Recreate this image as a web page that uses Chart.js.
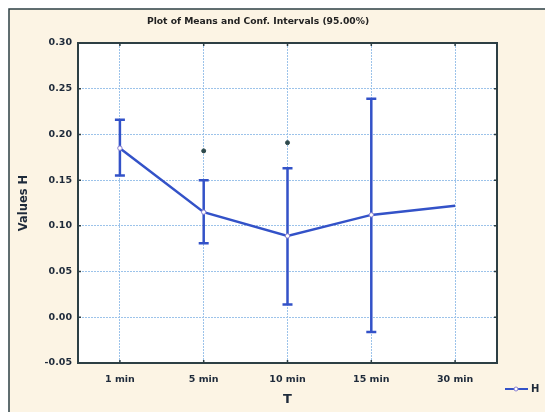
<!DOCTYPE html>
<html>
<head>
<meta charset="utf-8">
<script src="https://cdn.jsdelivr.net/npm/chart.js@4.4.1/dist/chart.umd.min.js"></script>
<style>
  html, body { margin: 0; padding: 0; background: #fff; }
  #wrap { width: 545px; height: 412px; position: relative; }
</style>
</head>
<body>
<div id="wrap"><canvas id="chart" width="545" height="412"></canvas></div>
<script>
// data
const categories = ['1 min', '5 min', '10 min', '15 min', '30 min'];
const means = [0.185, 0.115, 0.089, 0.112, 0.122];
const ciUpper = [0.216, 0.150, 0.163, 0.239, null];
const ciLower = [0.155, 0.081, 0.014, -0.016, null];
const starMarks = [null, 0.182, 0.191, null, null];
const yTicks = [-0.05, 0.00, 0.05, 0.10, 0.15, 0.20, 0.25, 0.30];

const BLUE = '#3352c8';
const DARK = '#2d3f44';
const CREAM = '#fcf4e4';
const GRID = '#9cc3ea';
const FONT = 'DejaVu Sans';

// frame, plot background, error bars, title, legend
const decor = {
    id: 'decor',
    beforeDraw(chart) {
        const ctx = chart.ctx;
        const a = chart.chartArea;
        ctx.save();
        ctx.fillStyle = '#ffffff';
        ctx.fillRect(0, 0, chart.width, chart.height);
        ctx.fillStyle = CREAM;
        ctx.fillRect(9, 9, chart.width - 9, chart.height - 9);
        ctx.strokeStyle = DARK;
        ctx.lineWidth = 1.5;
        ctx.beginPath();
        ctx.moveTo(9, chart.height);
        ctx.lineTo(9, 9);
        ctx.lineTo(chart.width, 9);
        ctx.stroke();
        ctx.fillStyle = '#ffffff';
        ctx.fillRect(a.left, a.top, a.right - a.left, a.bottom - a.top);
        ctx.restore();
    },
    beforeDatasetsDraw(chart) {
        const ctx = chart.ctx;
        const xs = chart.scales.x;
        const ys = chart.scales.y;
        ctx.save();
        ctx.strokeStyle = BLUE;
        ctx.lineWidth = 2.5;
        ctx.lineCap = 'butt';
        categories.forEach((c, i) => {
            if (ciUpper[i] === null) return;
            const x = xs.getPixelForValue(i);
            const yTop = ys.getPixelForValue(ciUpper[i]);
            const yBot = ys.getPixelForValue(ciLower[i]);
            ctx.beginPath();
            ctx.moveTo(x, yTop);
            ctx.lineTo(x, yBot);
            ctx.moveTo(x - 5, yTop);
            ctx.lineTo(x + 5, yTop);
            ctx.moveTo(x - 5, yBot);
            ctx.lineTo(x + 5, yBot);
            ctx.stroke();
        });
        ctx.restore();
    },
    afterDraw(chart) {
        const ctx = chart.ctx;
        const a = chart.chartArea;
        const xs = chart.scales.x;
        const ys = chart.scales.y;
        ctx.save();
        // plot frame with small inward ticks
        ctx.strokeStyle = DARK;
        ctx.lineWidth = 2;
        ctx.strokeRect(a.left, a.top, a.right - a.left, a.bottom - a.top);
        ctx.lineWidth = 1.5;
        ctx.beginPath();
        categories.forEach((c, i) => {
            const x = xs.getPixelForValue(i);
            ctx.moveTo(x, a.top); ctx.lineTo(x, a.top + 3);
            ctx.moveTo(x, a.bottom); ctx.lineTo(x, a.bottom - 3);
        });
        yTicks.forEach(v => {
            const y = ys.getPixelForValue(v);
            ctx.moveTo(a.left, y); ctx.lineTo(a.left + 3, y);
            ctx.moveTo(a.right, y); ctx.lineTo(a.right - 3, y);
        });
        ctx.stroke();
        // title
        ctx.fillStyle = '#222';
        ctx.font = 'bold 9.2px "' + FONT + '"';
        ctx.textAlign = 'center';
        ctx.textBaseline = 'middle';
        ctx.fillText('Plot of Means and Conf. Intervals (95.00%)', 258, 22);
        // legend
        const ly = 389;
        ctx.strokeStyle = BLUE;
        ctx.lineWidth = 2;
        ctx.beginPath();
        ctx.moveTo(505, ly);
        ctx.lineTo(528, ly);
        ctx.stroke();
        ctx.fillStyle = '#fff';
        ctx.lineWidth = 1;
        ctx.strokeStyle = '#8a7fd0';
        ctx.beginPath();
        ctx.arc(516, ly, 2, 0, Math.PI * 2);
        ctx.fill();
        ctx.stroke();
        ctx.fillStyle = '#1e2a3a';
        ctx.font = 'bold 10px "' + FONT + '"';
        ctx.textAlign = 'left';
        ctx.fillText('H', 531, ly);
        ctx.restore();
    }
};

new Chart(document.getElementById('chart'), {
    type: 'line',
    data: {
        labels: categories,
        datasets: [
            {
                label: 'H',
                data: means,
                borderColor: BLUE,
                borderWidth: 2.5,
                pointRadius: [2.2, 2.2, 2.2, 2.2, 0],
                pointBackgroundColor: '#ffffff',
                pointBorderColor: '#8a7fd0',
                pointBorderWidth: 1,
                tension: 0
            },
            {
                label: '*',
                data: starMarks,
                showLine: false,
                pointStyle: 'circle',
                pointRadius: 2,
                pointBackgroundColor: '#2e4a4c',
                pointBorderColor: '#2e4a4c',
                pointBorderWidth: 1
            }
        ]
    },
    options: {
        responsive: false,
        animation: false,
        layout: { padding: { left: 9, top: 43, right: 48, bottom: 0 } },
        plugins: {
            legend: { display: false },
            title: { display: false },
            tooltip: { enabled: false }
        },
        scales: {
            x: {
                type: 'category',
                offset: true,
                afterFit: (s) => { s.height = 49; },
                grid: { offset: false, color: GRID, lineWidth: 1, drawTicks: false },
                border: { display: true, color: DARK, width: 2, dash: [2, 1] },
                ticks: {
                    color: '#1e2a3a',
                    padding: 11,
                    font: { family: FONT, size: 9.5, weight: 'bold' }
                },
                title: {
                    display: true,
                    text: 'T',
                    color: '#1e2a3a',
                    padding: { top: 0, bottom: 5 },
                    font: { family: FONT, size: 13, weight: 'bold' }
                }
            },
            y: {
                min: -0.05,
                max: 0.30,
                afterFit: (s) => { s.width = 69; },
                afterBuildTicks: (s) => { s.ticks = yTicks.map(v => ({ value: v })); },
                grid: { color: GRID, lineWidth: 1, drawTicks: false },
                border: { display: true, color: DARK, width: 2, dash: [2, 1] },
                ticks: {
                    color: '#1e2a3a',
                    padding: 6,
                    font: { family: FONT, size: 9.5, weight: 'bold' },
                    callback: (v) => Number(v).toFixed(2)
                },
                title: {
                    display: true,
                    text: 'Values H',
                    color: '#1e2a3a',
                    padding: { top: 8, bottom: 0 },
                    font: { family: FONT, size: 11.5, weight: 'bold' }
                }
            }
        }
    },
    plugins: [decor]
});
</script>
</body>
</html>
